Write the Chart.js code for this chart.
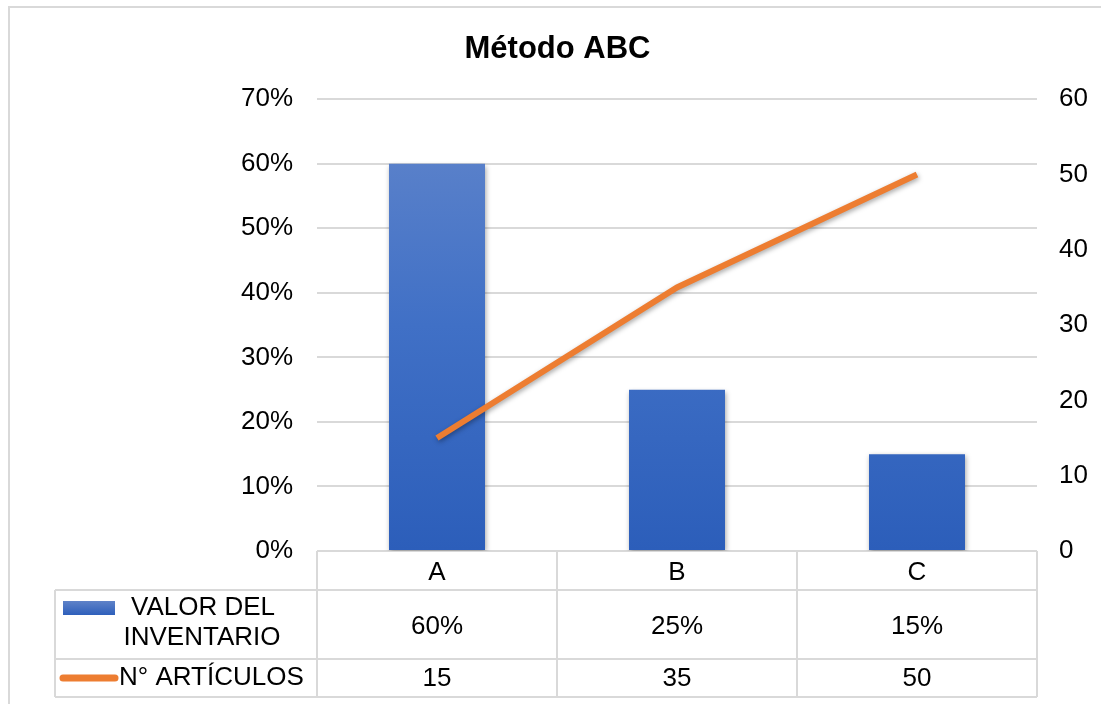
<!DOCTYPE html>
<html>
<head>
<meta charset="utf-8">
<script src="https://cdn.jsdelivr.net/npm/chart.js@4"></script>
<style>
  body { margin: 0; background: #ffffff; }
  #wrap { position: relative; width: 1101px; height: 704px; }
</style>
</head>
<body>
<div id="wrap"><canvas id="myCanvas" width="1101" height="704"></canvas></div>
<script>
let categorias = ["A", "B", "C"];
let valorInventario = [0.60, 0.25, 0.15];
let numArticulos = [15, 35, 50];
let etiquetaValor = ["VALOR DEL", "INVENTARIO"];
let etiquetaArticulos = "N° ARTÍCULOS";

let fuente = "'Liberation Sans', Arial, sans-serif";
let gris = "#d9d9d9";

// marco exterior + tabla de datos debajo del grafico
let tablaPlugin = {
  id: "tabla",
  beforeDraw(chart) {
    let ctx = chart.ctx;
    ctx.save();
    ctx.strokeStyle = gris;
    ctx.lineWidth = 2;
    ctx.strokeRect(9, 7, 1200, 800);
    ctx.restore();
  },
  afterDraw(chart) {
    let ctx = chart.ctx;
    let x = chart.scales.x;
    let area = chart.chartArea;
    let izq = 55;
    let y0 = area.bottom, y1 = 590, y2 = 659, y3 = 697;
    let paso = x.getPixelForValue(1) - x.getPixelForValue(0);

    ctx.save();
    ctx.strokeStyle = gris;
    ctx.lineWidth = 2;
    ctx.beginPath();
    // lineas horizontales
    ctx.moveTo(izq, y1); ctx.lineTo(area.right, y1);
    ctx.moveTo(izq, y2); ctx.lineTo(area.right, y2);
    ctx.moveTo(izq, y3); ctx.lineTo(area.right, y3);
    // lineas verticales
    ctx.moveTo(izq, y1); ctx.lineTo(izq, y3);
    for (let i = 0; i <= categorias.length; i++) {
      let px = x.getPixelForValue(0) - paso / 2 + i * paso;
      ctx.moveTo(px, y0); ctx.lineTo(px, y3);
    }
    ctx.stroke();

    ctx.fillStyle = "#000000";
    ctx.font = "26px " + fuente;
    ctx.textAlign = "center";
    ctx.textBaseline = "middle";
    categorias.forEach((c, i) => {
      let px = x.getPixelForValue(i);
      ctx.fillText(c, px, (y0 + y1) / 2 + 2);
      ctx.fillText(Math.round(valorInventario[i] * 100) + "%", px, (y1 + y2) / 2 + 2);
      ctx.fillText(numArticulos[i], px, (y2 + y3) / 2 + 1);
    });

    // leyenda dentro de la tabla
    let grad = ctx.createLinearGradient(0, 601, 0, 615);
    grad.addColorStop(0, "#5f82c8");
    grad.addColorStop(1, "#2e5fbb");
    ctx.fillStyle = grad;
    ctx.fillRect(63, 601, 52, 14);
    ctx.fillStyle = "#000000";
    ctx.fillText(etiquetaValor[0], 203, 608);
    ctx.fillText(etiquetaValor[1], 202, 638);

    ctx.strokeStyle = "#ed7d31";
    ctx.lineWidth = 7;
    ctx.lineCap = "round";
    ctx.beginPath();
    ctx.moveTo(63, 678); ctx.lineTo(115, 678);
    ctx.stroke();
    ctx.textAlign = "left";
    ctx.fillText(etiquetaArticulos, 119, 678);
    ctx.restore();
  }
};

// sombra para barras y linea
let sombraPlugin = {
  id: "sombra",
  beforeDatasetDraw(chart) {
    let ctx = chart.ctx;
    ctx.save();
    ctx.shadowColor = "rgba(0,0,0,0.35)";
    ctx.shadowBlur = 5;
    ctx.shadowOffsetX = 1;
    ctx.shadowOffsetY = 2;
  },
  afterDatasetDraw(chart) {
    chart.ctx.restore();
  }
};

function degradado(context) {
  let area = context.chart.chartArea;
  if (!area) return "#4472c4";
  let g = context.chart.ctx.createLinearGradient(0, area.top, 0, area.bottom);
  g.addColorStop(0, "#6286cb");
  g.addColorStop(0.5, "#4070c6");
  g.addColorStop(1, "#2c5eba");
  return g;
}

let myCanvas = document.querySelector("#myCanvas").getContext("2d");

let chart = new Chart(myCanvas, {
  type: "bar",
  data: {
    labels: categorias,
    datasets: [
      {
        type: "line",
        label: etiquetaArticulos,
        data: numArticulos,
        yAxisID: "y2",
        borderColor: "#ed7d31",
        borderWidth: 6,
        pointRadius: 0,
        tension: 0,
        order: 0
      },
      {
        label: etiquetaValor.join(" "),
        data: valorInventario,
        yAxisID: "y",
        backgroundColor: degradado,
        barPercentage: 0.4,
        categoryPercentage: 1,
        order: 1
      }
    ]
  },
  options: {
    responsive: false,
    animation: false,
    layout: { padding: { left: 14, right: 0, top: 0, bottom: 153 } },
    plugins: {
      legend: { display: false },
      tooltip: { enabled: false },
      title: {
        display: true,
        text: "Método ABC",
        color: "#000000",
        font: { family: fuente, size: 31, weight: "bold" },
        padding: { top: 31, bottom: 31 }
      }
    },
    scales: {
      x: {
        display: false,
        offset: true
      },
      y: {
        position: "left",
        min: 0,
        max: 0.7,
        ticks: {
          stepSize: 0.1,
          padding: 24,
          color: "#000000",
          font: { family: fuente, size: 26 },
          callback: (v) => Math.round(v * 100) + "%"
        },
        grid: { color: gris, lineWidth: 2, drawTicks: false },
        border: { display: false },
        afterFit: (s) => { s.width = 317 - 14; }
      },
      y2: {
        position: "right",
        min: 0,
        max: 60,
        ticks: {
          stepSize: 10,
          padding: 22,
          color: "#000000",
          font: { family: fuente, size: 26 }
        },
        grid: { display: false, drawTicks: false },
        border: { display: false },
        afterFit: (s) => { s.width = 1101 - 1037; }
      }
    }
  },
  plugins: [tablaPlugin, sombraPlugin]
});
</script>
</body>
</html>
